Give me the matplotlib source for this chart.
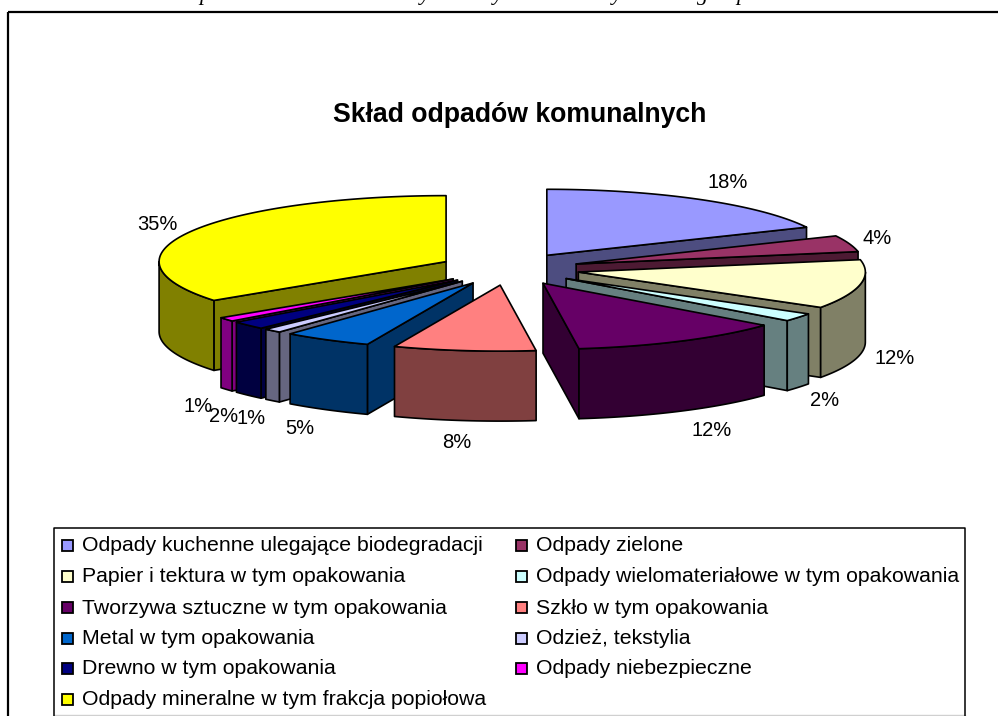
import numpy as np
import matplotlib
matplotlib.use('Agg')
import matplotlib.pyplot as plt
from matplotlib.colors import to_rgb
from matplotlib.patches import Polygon, Rectangle

title = 'Skład odpadów komunalnych'
categories = ['Odpady kuchenne ulegające biodegradacji', 'Odpady zielone',
              'Papier i tektura w tym opakowania', 'Odpady wielomateriałowe w tym opakowania',
              'Tworzywa sztuczne w tym opakowania', 'Szkło w tym opakowania',
              'Metal w tym opakowania', 'Odzież, tekstylia',
              'Drewno w tym opakowania', 'Odpady niebezpieczne',
              'Odpady mineralne w tym frakcja popiołowa']
values = [18, 4, 12, 2, 12, 8, 5, 1, 2, 1, 35]
colors = ['#9999FF', '#993366', '#FFFFCC', '#CCFFFF', '#660066', '#FF8080',
          '#0066CC', '#CCCCFF', '#000080', '#FF00FF', '#FFFF00']

# label centres, in pixels of the 998x716 picture
label_pos = [(728, 183), (877, 239), (895, 359), (825, 400), (712, 430), (457, 442),
             (300, 428), (251, 419), (224, 416), (198, 406), (157, 224)]

# pie geometry, pixels
CX, CY = 509, 269
RX, RY = 287, 66
DEPTH = 70
EXPLODE = 0.246

plt.rcParams['font.family'] = ['Liberation Sans', 'DejaVu Sans']

fig = plt.figure(figsize=(9.98, 7.16), dpi=100)
ax = fig.add_axes([0, 0, 1, 1])
ax.set_xlim(0, 998)
ax.set_ylim(716, 0)
ax.axis('off')


def rim(apex, angle):
    a = np.radians(angle)
    return apex[0] + RX * np.sin(a), apex[1] - RY * np.cos(a)


def arc(apex, a1, a2):
    angles = np.linspace(a1, a2, max(int(a2 - a1) + 2, 2))
    return [rim(apex, a) for a in angles]


def shift(points):
    return [(x, y + DEPTH) for x, y in points]


def draw_poly(points, color, z):
    ax.add_patch(Polygon(points, closed=True, facecolor=color, edgecolor='black',
                         linewidth=1.2, joinstyle='round', zorder=z))


def draw_cut(apex, angle, color, z):
    top = [apex, rim(apex, angle)]
    draw_poly(top + shift(top)[::-1], color, z)


# slices start at 12 o'clock and go clockwise
bounds = np.cumsum([0] + values) * 3.6
slices = []
for i in range(len(values)):
    a1, a2 = bounds[i], bounds[i + 1]
    mid = np.radians((a1 + a2) / 2)
    slices.append((np.cos(mid), i, a1, a2, mid))

# back to front
z = 2
for cos_mid, i, a1, a2, mid in sorted(slices, key=lambda s: -s[0]):
    apex = (CX + EXPLODE * RX * np.sin(mid), CY - EXPLODE * RY * np.cos(mid))
    top_color = colors[i]
    side_color = tuple(c * 0.5 for c in to_rgb(top_color))
    if np.cos(np.radians(a1 - 90)) < -1e-6:
        draw_cut(apex, a1, side_color, z)
    if np.cos(np.radians(a2 + 90)) < -1e-6:
        draw_cut(apex, a2, side_color, z)
    lo, hi = max(a1, 90), min(a2, 270)
    if hi > lo:
        front = arc(apex, lo, hi)
        draw_poly(front + shift(front)[::-1], side_color, z)
    draw_poly([apex] + arc(apex, a1, a2), top_color, z + 0.5)
    z += 1

for (x, y), v in zip(label_pos, values):
    ax.text(x, y, '%d%%' % v, fontsize=14.5, ha='center', va='center', color='black', zorder=50)

ax.text(520, 115, title, fontsize=19.2, fontweight='bold', ha='center', va='center')

# outer chart frame, cut by the page
ax.plot([8, 998], [12, 12], color='black', lw=1.6, solid_capstyle='butt')
ax.plot([8, 8], [12, 716], color='black', lw=1.6, solid_capstyle='butt')

# legend box
ax.plot([54, 54, 965, 965], [716, 528, 528, 716], color='black', lw=1.1)
ax.plot([54, 965], [715, 715], color='#d0d0d0', lw=1.0, zorder=1)
column_x = [62, 516]
row_y = [545, 576, 607.5, 638, 668, 699]
for i, name in enumerate(categories):
    col = i % 2
    y = row_y[i // 2]
    ax.add_patch(Rectangle((column_x[col], y - 5.5), 11, 11, facecolor=colors[i],
                           edgecolor='black', linewidth=1.3))
    ax.text(column_x[col] + 20, y + 0.5, name, fontsize=15.3, ha='left', va='center')

# sentence above the chart, cut off by the page: only descenders show
for ch, x in [('p', 205), ('y', 425), ('y', 498), ('y', 617), ('g', 703), ('p', 742)]:
    ax.text(x, 0, ch, family='Liberation Serif', style='italic', fontsize=16,
            ha='center', va='baseline', clip_on=False)

fig.savefig('out.png', dpi=100)
